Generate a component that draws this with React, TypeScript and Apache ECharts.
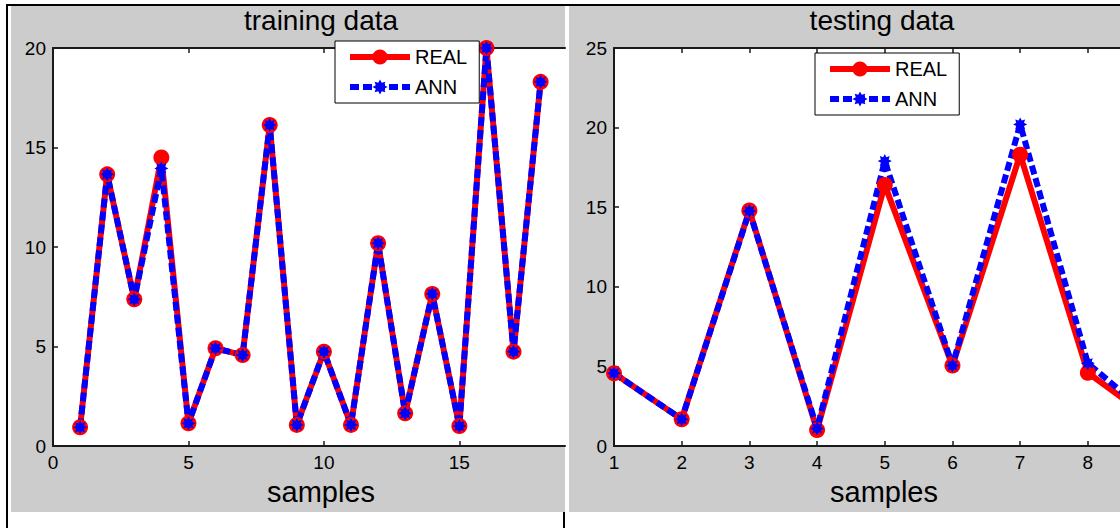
import React, { useEffect, useRef } from "react";
import * as echarts from "echarts";

// ---- data ----
const trainSamples = [1, 2, 3, 4, 5, 6, 7, 8, 9, 10, 11, 12, 13, 14, 15, 16, 17, 18];
const trainReal = [0.94, 13.65, 7.37, 14.5, 1.14, 4.91, 4.57, 16.13, 1.06, 4.74, 1.06, 10.19, 1.64, 7.64, 1.0, 20.0, 4.74, 18.3];
const trainAnn = [0.94, 13.65, 7.37, 13.95, 1.14, 4.91, 4.57, 16.13, 1.06, 4.74, 1.06, 10.19, 1.64, 7.64, 1.0, 20.0, 4.74, 18.3];

const testSamples = [1, 2, 3, 4, 5, 6, 7, 8, 9];
const testReal = [4.57, 1.68, 14.8, 1.0, 16.4, 5.05, 18.3, 4.6, 1.5];
const testAnn = [4.57, 1.68, 14.75, 1.1, 17.9, 5.05, 20.2, 5.2, 1.6];

const trainXTickLabels = [0, 5, 10, 15];
const testXTickLabels = [1, 2, 3, 4, 5, 6, 7, 8];
const legendNames = ["REAL", "ANN"];
const titles = ["training data", "testing data"];
const xLabel = "samples";

const FONT = '"Liberation Sans", Arial, Helvetica, sans-serif';
const AXIS_COLOR = "#1a1a1a";
const STAR =
  "path://M10,0 L5.54,2.3 L7.07,7.07 L2.3,5.54 L0,10 L-2.3,5.54 L-7.07,7.07 L-5.54,2.3 L-10,0 L-5.54,-2.3 L-7.07,-7.07 L-2.3,-5.54 L0,-10 L2.3,-5.54 L7.07,-7.07 L5.54,-2.3 Z";

function pairs(xs: number[], ys: number[]) {
  return xs.map((x, i) => [x, ys[i]]);
}

function xAxisBottom(gridIndex: number, min: number, max: number, interval: number, labels: number[]) {
  return {
    type: "value",
    gridIndex,
    position: "bottom",
    min,
    max,
    interval,
    axisLine: { show: true, onZero: false, lineStyle: { color: AXIS_COLOR, width: 2 } },
    axisTick: { show: true, inside: true, length: 5, customValues: labels, lineStyle: { color: AXIS_COLOR, width: 1.5 } },
    axisLabel: {
      show: true,
      customValues: labels,
      margin: 7,
      fontSize: 19,
      color: "#000",
      fontFamily: FONT,
      formatter: (v: number) => (labels.indexOf(v) >= 0 ? String(v) : ""),
    },
    splitLine: { show: false },
  };
}

function xAxisTop(gridIndex: number, min: number, max: number, interval: number, labels: number[]) {
  return {
    type: "value",
    gridIndex,
    position: "top",
    min,
    max,
    interval,
    axisLine: { show: true, onZero: false, lineStyle: { color: AXIS_COLOR, width: 2 } },
    axisTick: { show: true, inside: true, length: 5, customValues: labels, lineStyle: { color: AXIS_COLOR, width: 1.5 } },
    axisLabel: { show: false },
    splitLine: { show: false },
  };
}

function yAxis(gridIndex: number, max: number) {
  return {
    type: "value",
    gridIndex,
    min: 0,
    max,
    interval: 5,
    axisLine: { show: true, onZero: false, lineStyle: { color: AXIS_COLOR, width: 2 } },
    axisTick: { show: true, inside: true, length: 5, lineStyle: { color: AXIS_COLOR, width: 1.5 } },
    axisLabel: { show: true, margin: 7, fontSize: 19, color: "#000", fontFamily: FONT },
    splitLine: { show: false },
  };
}

function legend(left: number, top: number) {
  return {
    show: true,
    left,
    top,
    orient: "vertical",
    data: legendNames,
    itemWidth: 60,
    itemHeight: 19,
    itemGap: 10,
    padding: [6, 12, 6, 12],
    borderColor: "#000",
    borderWidth: 1,
    backgroundColor: "#fff",
    selectedMode: false,
    lineStyle: { width: 6 },
    textStyle: { fontSize: 20, color: "#000", fontFamily: FONT },
  };
}

function realSeries(axisIndex: number, data: number[][], width: number) {
  return {
    name: "REAL",
    type: "line",
    xAxisIndex: axisIndex * 2,
    yAxisIndex: axisIndex,
    data,
    symbol: "circle",
    symbolSize: 16,
    showSymbol: true,
    showAllSymbol: true,
    clip: true,
    lineStyle: { color: "#ff0000", width },
    itemStyle: { color: "#ff0000" },
    emphasis: { disabled: true },
  };
}

function annSeries(axisIndex: number, data: number[][], width: number) {
  return {
    name: "ANN",
    type: "line",
    xAxisIndex: axisIndex * 2,
    yAxisIndex: axisIndex,
    data,
    symbol: STAR,
    symbolSize: 14,
    showSymbol: true,
    showAllSymbol: true,
    clip: true,
    lineStyle: { color: "#0000ff", width, type: [9, 4] },
    itemStyle: { color: "#0000ff" },
    emphasis: { disabled: true },
  };
}

export default function App() {
  const ref = useRef<HTMLDivElement>(null);

  useEffect(() => {
    if (!ref.current) return;
    const chart = echarts.init(ref.current, undefined, { renderer: "svg" });
    const option = {
      animation: false,
      backgroundColor: "#fff",
      grid: [
        { left: 53, top: 48, width: 512, height: 398, show: true, backgroundColor: "#fff", borderWidth: 0 },
        { left: 614, top: 48, width: 506, height: 398, show: true, backgroundColor: "#fff", borderWidth: 0 },
      ],
      xAxis: [
        xAxisBottom(0, 0, 18.9, 5, trainXTickLabels),
        xAxisTop(0, 0, 18.9, 5, trainXTickLabels.slice(1)),
        xAxisBottom(1, 1, 8.475, 1, testXTickLabels),
        xAxisTop(1, 1, 8.475, 1, testXTickLabels.slice(1)),
      ],
      yAxis: [yAxis(0, 20), yAxis(1, 25)],
      legend: [legend(335, 41), legend(815, 53)],
      series: [
        realSeries(0, pairs(trainSamples, trainReal), 6),
        annSeries(0, pairs(trainSamples, trainAnn), 6),
        realSeries(1, pairs(testSamples, testReal), 6),
        annSeries(1, pairs(testSamples, testAnn), 6),
      ],
      graphic: [
        { type: "rect", z: -10, silent: true, shape: { x: 6, y: 4, width: 1114, height: 2 }, style: { fill: "#000" } },
        { type: "rect", z: -10, silent: true, shape: { x: 6, y: 4, width: 2, height: 524 }, style: { fill: "#000" } },
        { type: "rect", z: -10, silent: true, shape: { x: 11, y: 6, width: 554, height: 506 }, style: { fill: "#cccccc" } },
        { type: "rect", z: -10, silent: true, shape: { x: 569, y: 6, width: 551, height: 506 }, style: { fill: "#cccccc" } },
        { type: "rect", z: -10, silent: true, shape: { x: 563, y: 512, width: 2, height: 16 }, style: { fill: "#000" } },
        { type: "text", z: 10, x: 321, y: 20, style: { text: titles[0], fontSize: 28, fontFamily: FONT, fill: "#000", align: "center", verticalAlign: "middle" } },
        { type: "text", z: 10, x: 882, y: 20, style: { text: titles[1], fontSize: 28, fontFamily: FONT, fill: "#000", align: "center", verticalAlign: "middle" } },
        { type: "text", z: 10, x: 321, y: 492, style: { text: xLabel, fontSize: 29, fontFamily: FONT, fill: "#000", align: "center", verticalAlign: "middle" } },
        { type: "text", z: 10, x: 884, y: 492, style: { text: xLabel, fontSize: 29, fontFamily: FONT, fill: "#000", align: "center", verticalAlign: "middle" } },
      ],
    };
    chart.setOption(option as any);
    return () => chart.dispose();
  }, []);

  return (
    <div
      ref={ref}
      style={{ position: "absolute", left: 0, top: 0, width: 1120, height: 528, background: "#fff" }}
    />
  );
}
